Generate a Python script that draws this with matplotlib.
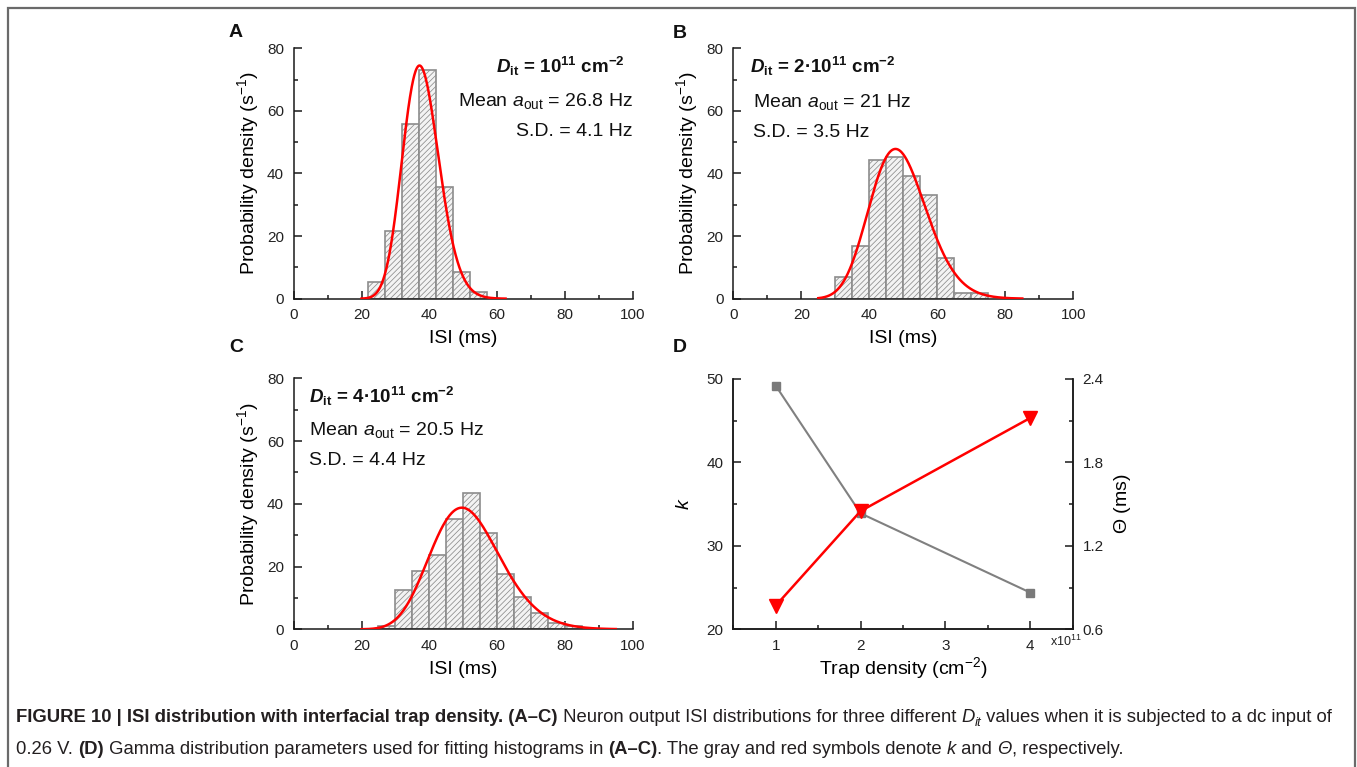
import math
import numpy as np
import matplotlib
matplotlib.use("Agg")
import matplotlib.pyplot as plt
from matplotlib import font_manager
from matplotlib.patches import Rectangle
from matplotlib.ticker import MultipleLocator, FixedLocator

# ------------------------------------------------------------------ data
bin_width = 5
a_bin_start = 22
a_heights = [5.2, 21.7, 55.9, 73.0, 35.6, 8.5, 2.2]
b_bin_start = 30
b_heights = [6.9, 16.9, 44.2, 45.3, 39.2, 33.1, 13.0, 1.8, 1.8]
c_bin_start = 25
c_heights = [1.0, 12.4, 18.6, 23.8, 35.1, 43.3, 30.8, 17.5, 10.3, 5.1, 2.1, 1.1]

trap_density = [1, 2, 4]            # x10^11 cm^-2
k_values = [49.2, 33.9, 24.4]       # gamma shape
theta_values = [0.77, 1.45, 2.12]   # gamma scale (ms)
fit_ranges = [(20, 62.5), (25, 85), (20, 95)]   # ms, extent of fitted curves

dit_labels = [r"$\mathbfit{D}_{\mathbf{it}}$ = 10$^{\mathbf{11}}$ cm$^{\mathbf{-2}}$",
              r"$\mathbfit{D}_{\mathbf{it}}$ = 2·10$^{\mathbf{11}}$ cm$^{\mathbf{-2}}$",
              r"$\mathbfit{D}_{\mathbf{it}}$ = 4·10$^{\mathbf{11}}$ cm$^{\mathbf{-2}}$"]
mean_rates = ["26.8", "21", "20.5"]
sd_rates = ["4.1", "3.5", "4.4"]
panel_letters = ["A", "B", "C", "D"]

# ------------------------------------------------------------------ style
plt.rcParams['font.family'] = ['Liberation Sans', 'DejaVu Sans']
plt.rcParams['mathtext.fontset'] = 'custom'
plt.rcParams['mathtext.rm'] = 'Liberation Sans'
plt.rcParams['mathtext.it'] = 'Liberation Sans:italic'
plt.rcParams['mathtext.bf'] = 'Liberation Sans:bold'
plt.rcParams['mathtext.bfit'] = 'Liberation Sans:italic:bold'
plt.rcParams['hatch.linewidth'] = 0.55
plt.rcParams['axes.linewidth'] = 1.1

names = {f.name for f in font_manager.fontManager.ttflist}
cap_family = 'Liberation Sans Narrow' if 'Liberation Sans Narrow' in names else 'Liberation Sans'

W, H = 1357, 767
fig = plt.figure(figsize=(W / 100, H / 100), dpi=100)
fig.patch.set_facecolor('white')


def ax_at(l, t, r, b):
    return fig.add_axes([l / W, 1 - b / H, (r - l) / W, (b - t) / H])


TICK_FS = 11
LABEL_FS = 14
ANN_FS = 14
SPINE_C = '#1a1a1a'


def style_axes(ax):
    ax.tick_params(which='both', direction='in', width=1.1, colors=SPINE_C,
                   labelsize=TICK_FS, pad=7, labelcolor='#222222')
    ax.tick_params(which='major', length=5.5)
    ax.tick_params(which='minor', length=3)
    for s in ax.spines.values():
        s.set_color(SPINE_C)


def gamma_pdf_per_s(x, k, th):
    return np.exp((k - 1) * np.log(x) - x / th - math.lgamma(k) - k * math.log(th)) * 1000.0


def hist_panel(ax, start, heights, idx):
    edges = start + bin_width * np.arange(len(heights))
    ax.bar(edges, heights, width=bin_width, align='edge', facecolor='#f3f3f3',
           edgecolor='#8c8c8c', hatch='//////', linewidth=1.2, zorder=2)
    lo, hi = fit_ranges[idx]
    x = np.linspace(lo, hi, 500)
    ax.plot(x, gamma_pdf_per_s(x, k_values[idx], theta_values[idx]),
            color='#ff0000', lw=1.8, zorder=3)
    ax.set_xlim(0, 100)
    ax.set_ylim(0, 80)
    ax.xaxis.set_major_locator(MultipleLocator(20))
    ax.xaxis.set_minor_locator(MultipleLocator(10))
    ax.yaxis.set_major_locator(MultipleLocator(20))
    ax.yaxis.set_minor_locator(MultipleLocator(10))
    ax.spines['top'].set_visible(False)
    ax.spines['right'].set_visible(False)
    style_axes(ax)
    ax.set_xlabel('ISI (ms)', fontsize=LABEL_FS, labelpad=5.5)
    ax.set_ylabel(r'Probability density (s$^{-1}$)', fontsize=LABEL_FS, labelpad=4.5)


axA = ax_at(293.7, 48.3, 632.7, 298.7)
axB = ax_at(733.3, 48.3, 1073.3, 298.7)
axC = ax_at(293.7, 378.3, 632.7, 629.3)
axD = ax_at(733.3, 379.0, 1072.7, 629.3)

hist_panel(axA, a_bin_start, a_heights, 0)
hist_panel(axB, b_bin_start, b_heights, 1)
hist_panel(axC, c_bin_start, c_heights, 2)


def fig_text(xpx, ypx, s, **kw):
    return fig.text(xpx / W, 1 - ypx / H, s, **kw)


# annotations (pixel positions, baseline)
ann = [
    # (x, ha, y_dit, y_mean, y_sd, x_dit)
    (632.7, 'right', 73.3, 106.0, 136.0, 625.0),
    (753.3, 'left', 73.3, 107.3, 137.3, 750.0),
    (308.8, 'left', 402.7, 435.0, 465.0, 309.3),
]
for i, (x, ha, yd, ym, ys, xd) in enumerate(ann):
    fig_text(xd, yd, dit_labels[i], ha=ha, va='baseline', fontsize=ANN_FS - 0.5,
             fontweight='bold', color='#111111')
    fig_text(x, ym, r'Mean $a_{\mathrm{out}}$ = ' + mean_rates[i] + ' Hz', ha=ha,
             va='baseline', fontsize=ANN_FS, color='#111111')
    fig_text(x, ys, 'S.D. = ' + sd_rates[i] + ' Hz', ha=ha, va='baseline',
             fontsize=ANN_FS, color='#111111')

# ------------------------------------------------------------------ panel D
axD.plot(trap_density, k_values, color='#808080', lw=1.5, marker='s', ms=6,
         mfc='#7a7a7a', mec='#7a7a7a', zorder=3)
axD.set_xlim(0.5, 4.5)
axD.set_ylim(20, 50)
axD.xaxis.set_major_locator(MultipleLocator(1))
axD.xaxis.set_minor_locator(MultipleLocator(0.5))
axD.yaxis.set_major_locator(MultipleLocator(10))
axD.yaxis.set_minor_locator(MultipleLocator(5))
axD.spines['top'].set_visible(False)
style_axes(axD)
axD.set_xlabel(r'Trap density (cm$^{-2}$)', fontsize=LABEL_FS, labelpad=1.5)
axD.set_ylabel(r'$k$', fontsize=LABEL_FS, labelpad=10)

axD2 = axD.twinx()
axD2.plot(trap_density, theta_values, color='#ff0000', lw=1.8, marker='v', ms=9.5,
          mfc='#ff0000', mec='#ff0000', zorder=3)
axD2.set_ylim(0.6, 2.4)
axD2.yaxis.set_major_locator(FixedLocator([0.6, 1.2, 1.8, 2.4]))
axD2.yaxis.set_minor_locator(FixedLocator([0.9, 1.5, 2.1]))
axD2.spines['top'].set_visible(False)
style_axes(axD2)
axD2.set_ylabel(r'$\mathit{\Theta}$ (ms)', fontsize=LABEL_FS, labelpad=6)
axD.text(0.933, -0.05, r'x10$^{11}$', transform=axD.transAxes, fontsize=9,
         ha='left', va='center', color='#222222')

# panel letters
for (lx, ly), L in zip([(229, 32.7), (673, 33.0), (229, 348.0), (673, 348.0)], panel_letters):
    fig_text(lx, ly, L, ha='left', va='center', fontsize=14, fontweight='bold',
             color='#111111')

# border
fig.patches.append(Rectangle((7.5 / W, -0.05), (1355 - 7.5) / W, 1.05 - 8.5 / H,
                             transform=fig.transFigure, fill=False,
                             edgecolor='#6a6a6a', lw=1.6))

# ------------------------------------------------------------------ caption
renderer = fig.canvas.get_renderer()


def text_width(s, size, weight='normal', style='normal'):
    prop = font_manager.FontProperties(family=cap_family, size=size, weight=weight, style=style)
    w1, _, _ = renderer.get_text_width_height_descent('|' + s + '|', prop, ismath=False)
    w0, _, _ = renderer.get_text_width_height_descent('||', prop, ismath=False)
    return w1 - w0


line1 = [
    ("FIGURE 10 | ISI distribution with interfacial trap density. (A–C)", 'bold', 'normal', 1.0, 0),
    (" Neuron output ISI distributions for three different ", 'normal', 'normal', 1.0, 0),
    ("D", 'normal', 'italic', 1.0, 0),
    ("it", 'normal', 'italic', 0.72, 3.5),
    (" values when it is subjected to a dc input of", 'normal', 'normal', 1.0, 0),
]
line2 = [
    ("0.26 V. ", 'normal', 'normal', 1.0, 0),
    ("(D)", 'bold', 'normal', 1.0, 0),
    (" Gamma distribution parameters used for fitting histograms in ", 'normal', 'normal', 1.0, 0),
    ("(A–C)", 'bold', 'normal', 1.0, 0),
    (". The gray and red symbols denote ", 'normal', 'normal', 1.0, 0),
    ("k", 'normal', 'italic', 1.0, 0),
    (" and ", 'normal', 'normal', 1.0, 0),
    ("Θ", 'normal', 'italic', 1.0, 0),
    (", respectively.", 'normal', 'normal', 1.0, 0),
]

base = 10.0
w_total = sum(text_width(s, base * sc, wt, st) for s, wt, st, sc, _ in line1)
cap_size = base * (1340 - 16) / w_total

for pieces, ybase in [(line1, 722.0), (line2, 754.5)]:
    x = 16.0
    for s, wt, st, sc, dy in pieces:
        size = cap_size * sc
        fig_text(x, ybase + dy, s, ha='left', va='baseline', fontsize=size,
                 fontweight=wt, fontstyle=st, family=cap_family, color='#231f20')
        x += text_width(s, size, wt, st)

fig.savefig('out.png', dpi=100, facecolor='white')
